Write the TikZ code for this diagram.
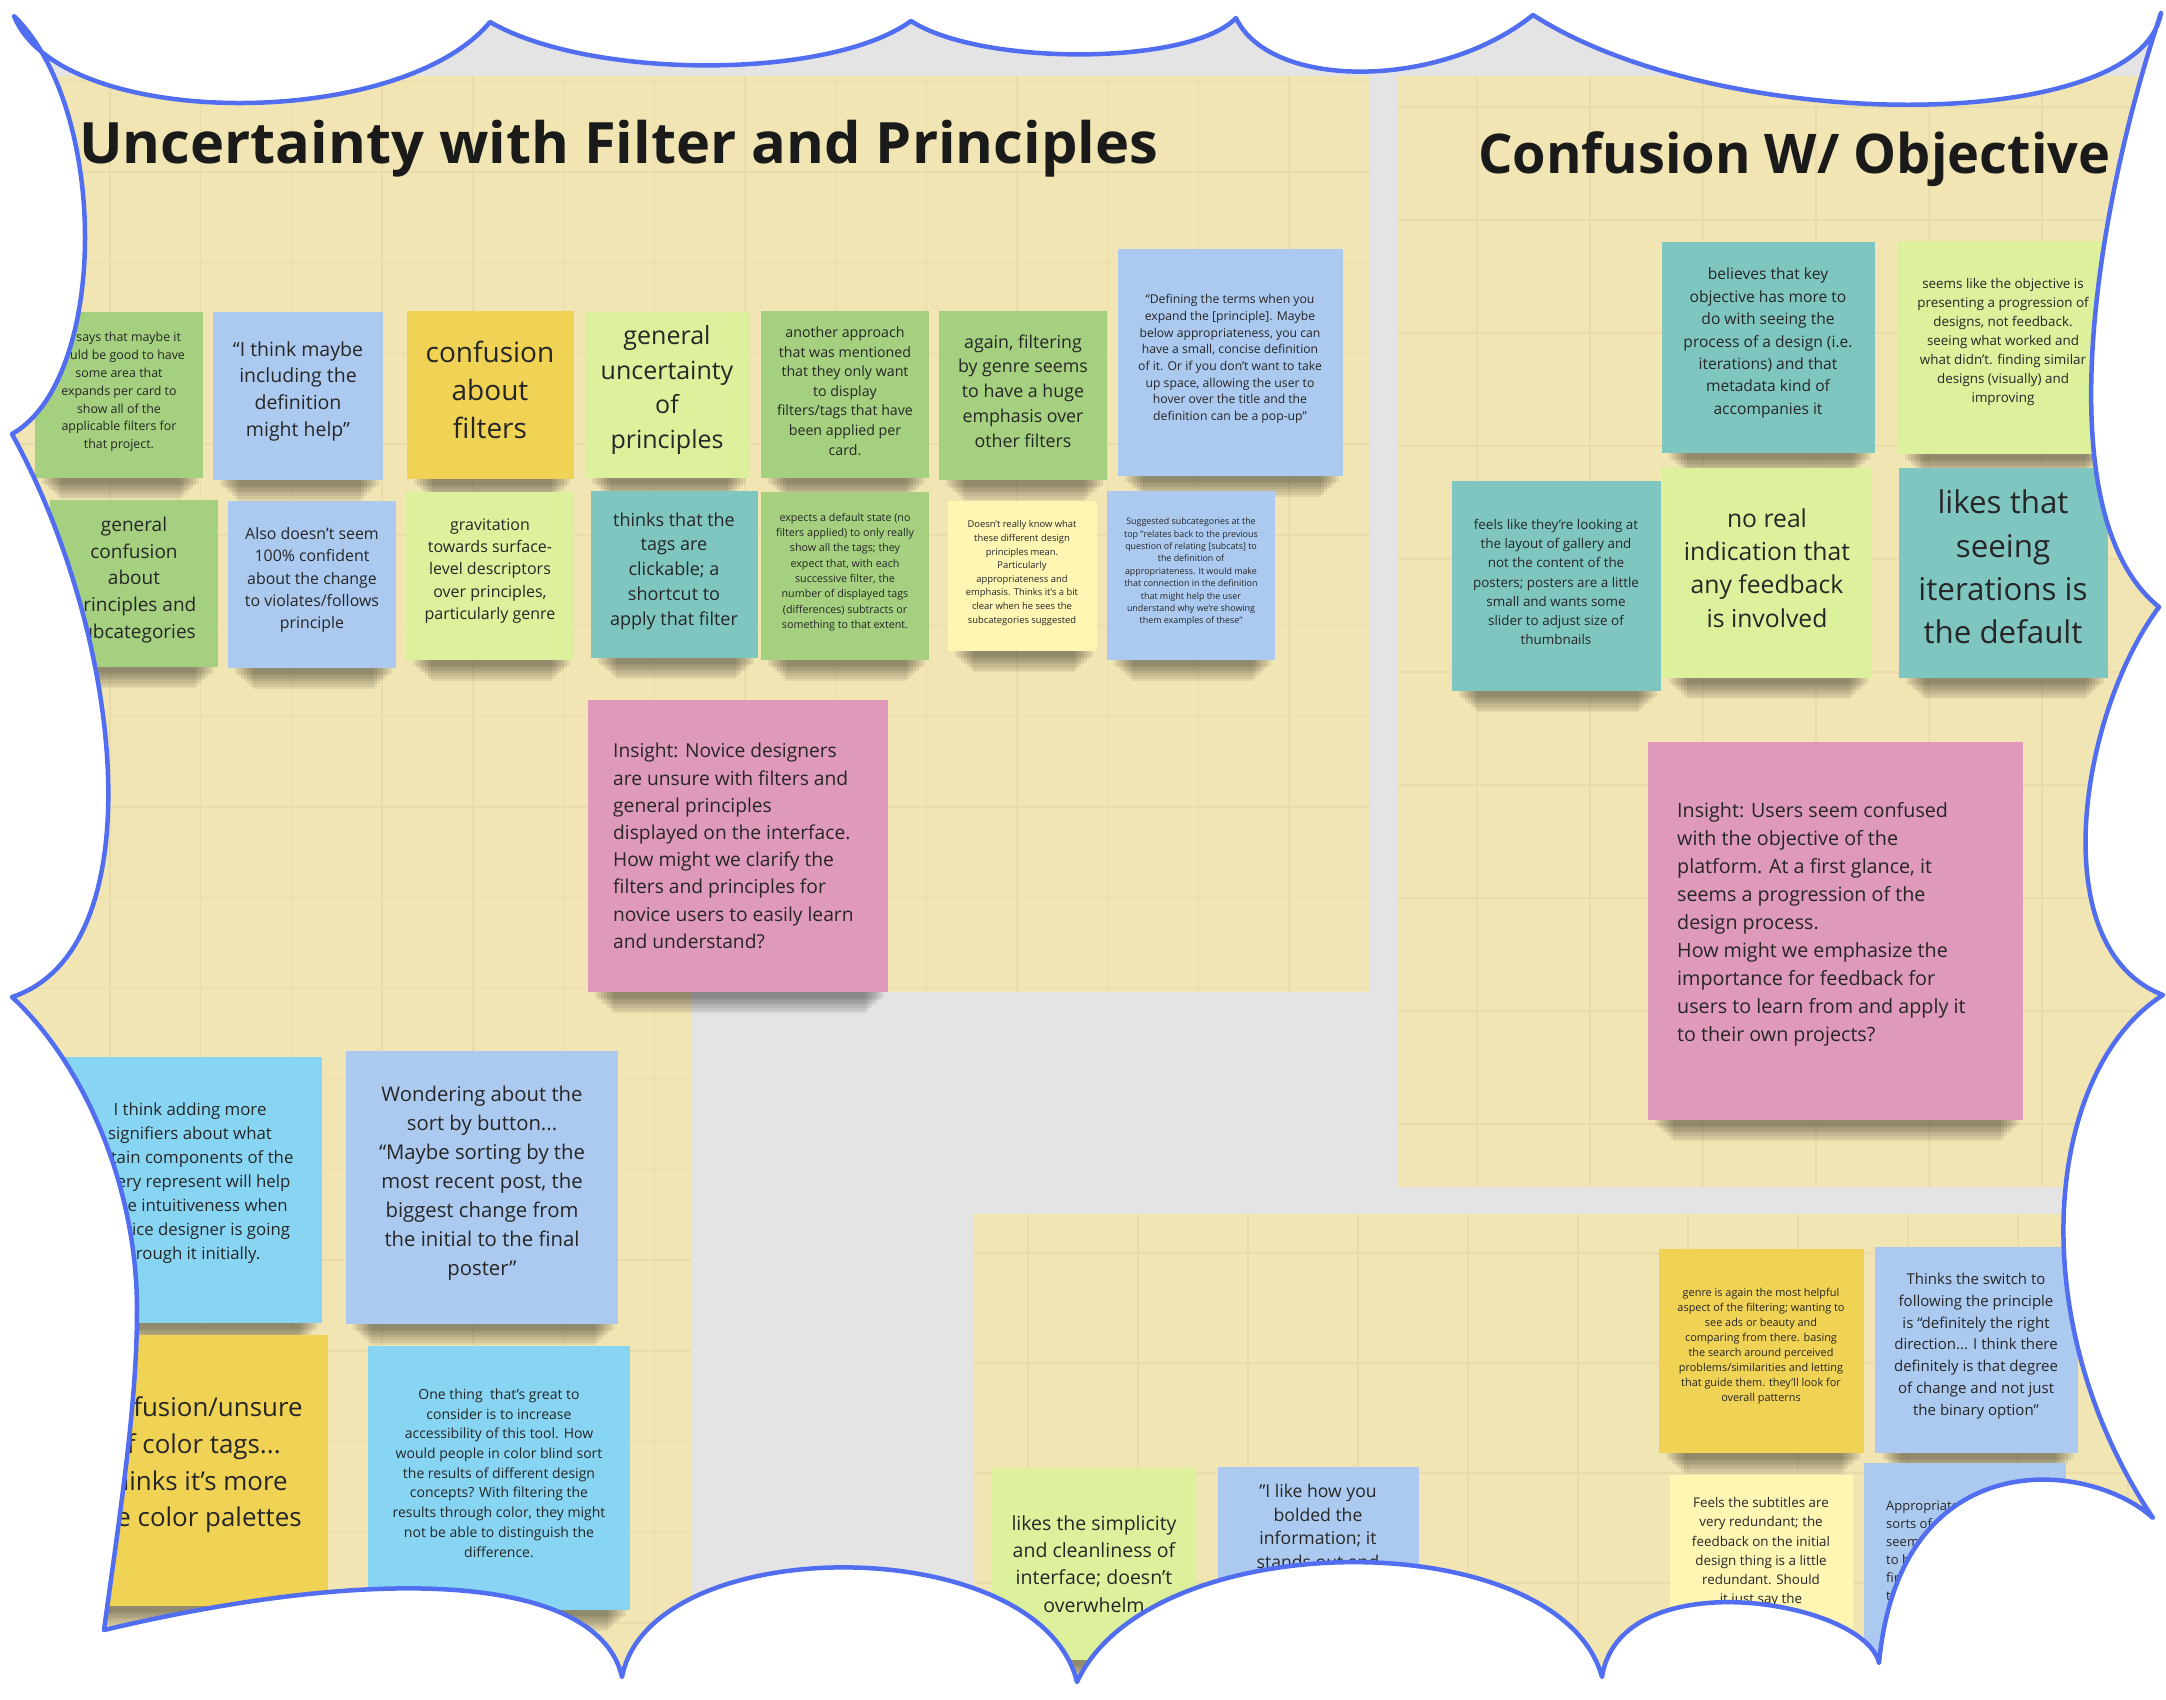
\documentclass[tikz,border=0pt]{standalone}
\usepackage{fontspec}
\setmainfont{Open Sans}
\usepackage{graphicx}
\usetikzlibrary{fit}

\definecolor{board}{RGB}{228,228,228}
\definecolor{panel}{RGB}{241,229,179}
\definecolor{gridc}{RGB}{233,220,170}
\definecolor{edge}{RGB}{82,110,240}
\definecolor{ink}{RGB}{38,38,38}
\definecolor{titleink}{RGB}{26,26,26}
\definecolor{sgreen}{RGB}{164,208,127}
\definecolor{sblue}{RGB}{172,202,240}
\definecolor{sorange}{RGB}{240,210,85}
\definecolor{slime}{RGB}{221,241,156}
\definecolor{steal}{RGB}{127,198,192}
\definecolor{spale}{RGB}{255,246,180}
\definecolor{spink}{RGB}{223,153,186}
\definecolor{ssky}{RGB}{136,213,243}

\newcommand\fsz[2]{\fontsize{#1}{#2}\selectfont}

% sticky note with a soft shadow under its lower edge: name, left, top, right, bottom, colour
\newcommand\stickynote[6]{%
  \foreach \k in {1,...,7}{%
    \fill[black,opacity=0.065] ({#2+4+3*\k},{#5-12}) rectangle ({#4-1-3*\k},{#5+3+2.6*\k});}
  \node[notebox,fill=#6,fit={(#2,#3) (#4,#5)}] (#1) {};
}

% wavy frame of the board
\def\boardoutline{(14,16) .. controls (60,131) and (400,131) .. (490,22)
 .. controls (590,80) and (830,80) .. (911,21)
 .. controls (980,66) and (1190,66) .. (1236,18)
 .. controls (1270,90) and (1440,90) .. (1533,15)
 .. controls (1720,135) and (2140,135) .. (2161,13)
 .. controls (2095,210) and (2045,515) .. (2159,607)
 .. controls (2079,715) and (2043,949) .. (2163,995)
 .. controls (2045,1070) and (2020,1320) .. (2153,1518)
 .. controls (2090,1460) and (1900,1440) .. (1879,1663)
 .. controls (1865,1600) and (1620,1560) .. (1602,1677)
 .. controls (1560,1523) and (1150,1523) .. (1077,1682)
 .. controls (1040,1530) and (650,1530) .. (622,1677)
 .. controls (600,1580) and (400,1560) .. (104,1630)
 .. controls (122,1500) and (137,1400) .. (137,1310)
 .. controls (137,1180) and (80,1060) .. (12,997)
 .. controls (155,950) and (125,640) .. (12,434)
 .. controls (108,380) and (110,110) .. (14,16) -- cycle}

\begin{document}
\begin{tikzpicture}[x=1pt,y=-1pt,
  notebox/.style={inner sep=0pt,outer sep=0pt,draw=none},
  notetext/.style={inner sep=0pt,align=center,text=ink},
  insighttext/.style={inner sep=0pt,align=left,text=ink,anchor=west},
  gridline/.style={draw=gridc,line width=1.4pt},
  panelbox/.style={fill=panel}]

\useasboundingbox (0,0) rectangle (2166,1700);
\fill[white] (0,0) rectangle (2166,1700);

\begin{scope}
\clip \boardoutline;
\fill[board] (0,0) rectangle (2166,1700);

% panels
\fill[panelbox] (0,76) rectangle (1370,992);
\fill[panelbox] (1398,76) rectangle (2166,1187);
\fill[panelbox] (0,992) rectangle (691,1700);
\fill[panelbox] (974,1214) rectangle (2166,1700);

% panel grids
\foreach \gx in {19.3,110,...,1370} \draw[gridline] (\gx,76) -- (\gx,992);
\foreach \gy in {81.3,172,...,992} \draw[gridline] (0,\gy) -- (1370,\gy);
\foreach \gx in {19.3,110,...,691} \draw[gridline] (\gx,992) -- (\gx,1700);
\foreach \gy in {1078.7,1169.4,...,1700} \draw[gridline] (0,\gy) -- (691,\gy);
\foreach \gx in {1477,1590,...,2166} \draw[gridline] (\gx,76) -- (\gx,1187);
\foreach \gy in {107,220,...,1187} \draw[gridline] (1398,\gy) -- (2166,\gy);
\foreach \gx in {1028,1138,...,2166} \draw[gridline] (\gx,1214) -- (\gx,1700);
\foreach \gy in {1253,1363,...,1700} \draw[gridline] (974,\gy) -- (2166,\gy);

% titles
\node[inner sep=0pt,anchor=north west,text=titleink] (title1) at (79,120)
  {\resizebox*{1079pt}{57pt}{\bfseries Uncertainty with Filter and Principles}};
\node[inner sep=0pt,anchor=north west,text=titleink] (title2) at (1478,131)
  {\resizebox*{632pt}{55pt}{\bfseries Confusion W/ Objective}};

% ---- first panel, upper row
\stickynote{n1}{35}{312}{203}{478}{sgreen}
\node[notetext,font=\fsz{12.4}{17.8}] (n1t) at (119,392) {\hphantom{He }says that maybe it\\would be good to have\\some area that\\expands per card to\\show all of the\\applicable filters for\\that project.};

\stickynote{n2}{213}{312}{383}{480}{sblue}
\node[notetext,font=\fsz{19.5}{26.7}] (n2t) at (298,391) {“I think maybe\\including the\\definition\\might help”};

\stickynote{n3}{407}{311}{574}{479}{sorange}
\node[notetext,font=\fsz{28}{38.3}] (n3t) at (490,390) {confusion\\about\\filters};

\stickynote{n4}{585}{312}{750}{478}{slime}
\node[notetext,font=\fsz{25}{34.5}] (n4t) at (667,390) {general\\uncertainty\\of\\principles};

\stickynote{n5}{761}{311}{929}{478}{sgreen}
\node[notetext,font=\fsz{14.2}{19.6}] (n5t) at (845,391) {another approach\\that was mentioned\\that they only want\\to display\\filters/tags that have\\been applied per\\card.};

\stickynote{n6}{939}{311}{1107}{480}{sgreen}
\node[notetext,font=\fsz{17.8}{24.8}] (n6t) at (1023,391) {again, filtering\\by genre seems\\to have a huge\\emphasis over\\other filters};

\stickynote{n7}{1118}{249}{1343}{476}{sblue}
\node[notetext,font=\fsz{12.2}{16.7}] (n7t) at (1230,359) {“Defining the terms when you\\expand the [principle]. Maybe\\below appropriateness, you can\\have a small, concise definition\\of it. Or if you don’t want to take\\up space, allowing the user to\\hover over the title and the\\definition can be a pop-up”};

% ---- first panel, lower row
\stickynote{n8}{50}{500}{218}{667}{sgreen}
\node[notetext,font=\fsz{19}{26.7}] (n8t) at (134,580) {general\\confusion\\about\\principles and\\subcategories};

\stickynote{n9}{228}{501}{396}{668}{sblue}
\node[notetext,font=\fsz{15.9}{22.3}] (n9t) at (312,580) {Also doesn't seem\\100\% confident\\about the change\\to violates/follows\\principle};

\stickynote{n10}{406}{492}{574}{660}{slime}
\node[notetext,font=\fsz{16}{22.2}] (n10t) at (490,571) {gravitation\\towards surface-\\level descriptors\\over principles,\\particularly genre};

\stickynote{n11}{591}{491}{758}{658}{steal}
\node[notetext,font=\fsz{18}{24.8}] (n11t) at (674,571) {thinks that the\\tags are\\clickable; a\\shortcut to\\apply that filter};

\stickynote{n12}{761}{492}{929}{660}{sgreen}
\node[notetext,font=\fsz{10.7}{15.3}] (n12t) at (845,572) {expects a default state (no\\filters applied) to only really\\show all the tags; they\\expect that, with each\\successive filter, the\\number of displayed tags\\(differences) subtracts or\\something to that extent.};

\stickynote{n13}{948}{501}{1097}{651}{spale}
\node[notetext,font=\fsz{9.4}{13.6}] (n13t) at (1022,573) {Doesn’t really know what\\these different design\\principles mean.\\Particularly\\appropriateness and\\emphasis. Thinks it’s a bit\\clear when he sees the\\subcategories suggested};

\stickynote{n14}{1107}{491}{1275}{660}{sblue}
\node[notetext,font=\fsz{8.9}{12.4}] (n14t) at (1191,572) {Suggested subcategories at the\\top "relates back to the previous\\question of relating [subcats] to\\the definition of\\appropriateness. It would make\\that connection in the definition\\that might help the user\\understand why we’re showing\\them examples of these"};

\stickynote{n15}{588}{700}{888}{992}{spink}
\node[insighttext,font=\fsz{19.2}{27.2}] (n15t) at (613,846) {Insight: Novice designers\\are unsure with filters and\\general principles\\displayed on the interface.\\How might we clarify the\\filters and principles for\\novice users to easily learn\\and understand?};

% ---- second panel
\stickynote{n16}{1662}{242}{1875}{453}{steal}
\node[notetext,font=\fsz{15.6}{22.4}] (n16t) at (1768,343) {believes that key\\objective has more to\\do with seeing the\\process of a design (i.e.\\iterations) and that\\metadata kind of\\accompanies it};

\stickynote{n17}{1898}{241}{2108}{454}{slime}
\node[notetext,font=\fsz{13.4}{18.9}] (n17t) at (2003,342) {seems like the objective is\\presenting a progression of\\designs, not feedback.\\seeing what worked and\\what didn’t. finding similar\\designs (visually) and\\improving};

\stickynote{n18}{1452}{481}{1661}{691}{steal}
\node[notetext,font=\fsz{13.4}{19.1}] (n18t) at (1556,582) {feels like they’re looking at\\the layout of gallery and\\not the content of the\\posters; posters are a little\\small and wants some\\slider to adjust size of\\thumbnails};

\stickynote{n19}{1662}{468}{1872}{678}{slime}
\node[notetext,font=\fsz{24.7}{33.3}] (n19t) at (1767,568) {no real\\indication that\\any feedback\\is involved};

\stickynote{n20}{1899}{468}{2108}{678}{steal}
\node[notetext,font=\fsz{31.3}{43.3}] (n20t) at (2003,567) {likes that\\seeing\\iterations is\\the default};

\stickynote{n21}{1648}{742}{2023}{1120}{spink}
\node[insighttext,font=\fsz{19.7}{28}] (n21t) at (1677,924) {Insight: Users seem confused\\with the objective of the\\platform. At a first glance, it\\seems a progression of the\\design process.\\How might we emphasize the\\importance for feedback for\\users to learn from and apply it\\to their own projects?};

% ---- third panel
\stickynote{n22}{57}{1057}{322}{1323}{ssky}
\node[notetext,font=\fsz{16.8}{23.9}] (n22t) at (190,1183) {I think adding more\\signifiers about what\\certain components of the\\gallery represent will help\\in the intuitiveness when\\a novice designer is going\\through it initially.};

\stickynote{n23}{346}{1051}{618}{1324}{sblue}
\node[notetext,font=\fsz{20.3}{29}] (n23t) at (482,1183) {Wondering about the\\sort by button...\\“Maybe sorting by the\\most recent post, the\\biggest change from\\the initial to the final\\poster”};

\stickynote{n24}{64}{1335}{328}{1606}{sorange}
\node[notetext,font=\fsz{25.9}{36.6}] (n24t) at (196,1465) {confusion/unsure\\of color tags...\\thinks it’s more\\like color palettes};

\stickynote{n25}{368}{1346}{630}{1610}{ssky}
\node[notetext,font=\fsz{14}{19.7}] (n25t) at (499,1473) {One thing\ \ that’s great to\\consider is to increase\\accessibility of this tool. How\\would people in color blind sort\\the results of different design\\concepts? With filtering the\\results through color, they might\\not be able to distinguish the\\difference.};

% ---- fourth panel
\stickynote{n26}{992}{1468}{1196}{1660}{slime}
\node[notetext,font=\fsz{19.5}{27.2}] (n26t) at (1094,1564) {likes the simplicity\\and cleanliness of\\interface; doesn’t\\overwhelm};

\stickynote{n27}{1218}{1467}{1419}{1700}{sblue}
\node[notetext,font=\fsz{17.6}{23.6},anchor=north] (n27t) at (1318,1484) {"I like how you\\bolded the\\information; it\\stands out and};

\stickynote{n28}{1659}{1249}{1864}{1453}{sorange}
\node[notetext,font=\fsz{10.9}{15.1}] (n28t) at (1761,1346) {genre is again the most helpful\\aspect of the filtering; wanting to\\see ads or beauty and\\comparing from there. basing\\the search around perceived\\problems/similarities and letting\\that guide them. they’ll look for\\overall patterns};

\stickynote{n29}{1875}{1247}{2078}{1453}{sblue}
\node[notetext,font=\fsz{15}{21.7}] (n29t) at (1976,1346) {Thinks the switch to\\following the principle\\is “definitely the right\\direction... I think there\\definitely is that degree\\of change and not just\\the binary option”};

\stickynote{n30}{1670}{1475}{1853}{1700}{spale}
\node[notetext,font=\fsz{13.4}{19.3},anchor=north] (n30t) at (1761,1497) {Feels the subtitles are\\very redundant; the\\feedback on the initial\\design thing is a little\\redundant. Should\\it just say the\\iteration/round};

\stickynote{n31}{1864}{1463}{2066}{1700}{sblue}
\node[notetext,align=left,font=\fsz{13}{18},anchor=north west] (n31t) at (1886,1500) {Appropriateness and other\\sorts of principles may\\seem confusing, needs\\to be explained at\\first glance so users\\they understand};
\end{scope}

% frame stroke
\draw[edge,line width=4.5pt,line join=round] \boardoutline;
\end{tikzpicture}
\end{document}
